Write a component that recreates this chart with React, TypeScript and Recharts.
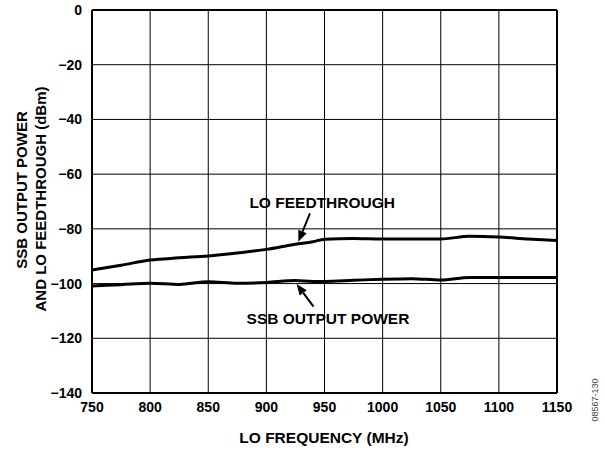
import {
  LineChart,
  Line,
  CartesianGrid,
  XAxis,
  YAxis,
  Label,
  ReferenceLine,
  ReferenceDot,
} from "recharts";

const freq = [750, 775, 800, 825, 850, 875, 900, 925, 940, 950, 975, 1000, 1025, 1050, 1075, 1100, 1125, 1150];
const loFeedthrough = [-95.0, -93.3, -91.4, -90.6, -89.9, -88.8, -87.5, -85.6, -84.7, -83.8, -83.5, -83.7, -83.7, -83.7, -82.7, -83.0, -83.7, -84.3];
const ssbOutput = [-100.9, -100.4, -99.9, -100.3, -99.3, -99.9, -99.6, -98.9, -99.2, -99.2, -98.8, -98.4, -98.2, -98.7, -97.8, -97.8, -97.8, -97.8];

const xTicks = [750, 800, 850, 900, 950, 1000, 1050, 1100, 1150];
const yTicks = [0, -20, -40, -60, -80, -100, -120, -140];

const data = freq.map((f, i) => ({ f, lo: loFeedthrough[i], ssb: ssbOutput[i] }));

const font = "'Liberation Sans', Arial, sans-serif";
const fmt = (v: number) => (v < 0 ? "\u2212" + Math.abs(v) : String(v));

function Arrow(props: any) {
  const { x1, y1, x2, y2 } = props;
  const ang = Math.atan2(y2 - y1, x2 - x1);
  const len = 11;
  const w = 4.5;
  const bx = x2 - len * Math.cos(ang);
  const by = y2 - len * Math.sin(ang);
  const px = -Math.sin(ang) * w;
  const py = Math.cos(ang) * w;
  return (
    <g>
      <line x1={x1} y1={y1} x2={bx} y2={by} stroke="#000" strokeWidth={2} />
      <polygon points={`${x2},${y2} ${bx + px},${by + py} ${bx - px},${by - py}`} fill="#000" />
    </g>
  );
}

const textLabel = (text: string) => (p: any) => {
  const vb = p.viewBox;
  return (
    <text x={vb.x} y={vb.y} textAnchor="middle" dominantBaseline="central" fontFamily={font} fontWeight="bold" fontSize={15.5} fill="#000">
      {text}
    </text>
  );
};

export default function App() {
  return (
    <div style={{ position: "absolute", left: 0, top: 0, width: 605, height: 450, background: "#fff" }}>
      <LineChart width={605} height={450} data={data} margin={{ top: 10, right: 48, bottom: 27, left: 0 }}>
        <CartesianGrid stroke="#000" strokeWidth={1} horizontalValues={yTicks} verticalValues={xTicks} />
        <XAxis
          dataKey="f"
          type="number"
          height={30}
          domain={[750, 1150]}
          ticks={xTicks}
          tickLine={false}
          axisLine={{ stroke: "#000", strokeWidth: 2 }}
          tick={{ fill: "#000", fontSize: 14, fontWeight: "bold", fontFamily: font }}
          tickMargin={3}
        >
          <Label
            content={() => (
              <text x={324} y={437} textAnchor="middle" dominantBaseline="central" fontFamily={font} fontWeight="bold" fontSize={15.5} fill="#000">
                LO FREQUENCY (MHz)
              </text>
            )}
          />
        </XAxis>
        <YAxis
          width={92}
          type="number"
          domain={[-140, 0]}
          ticks={yTicks}
          tickFormatter={fmt}
          tickLine={false}
          axisLine={{ stroke: "#000", strokeWidth: 2 }}
          tick={{ fill: "#000", fontSize: 14, fontWeight: "bold", fontFamily: font }}
          tickMargin={4}
        >
          <Label
            content={() => (
              <g fontFamily={font} fontWeight="bold" fontSize={15} fill="#000">
                <text x={21} y={190} textAnchor="middle" dominantBaseline="central" transform="rotate(-90 21 190)">
                  SSB OUTPUT POWER
                </text>
                <text x={40} y={199} textAnchor="middle" dominantBaseline="central" transform="rotate(-90 40 199)">
                  AND LO FEEDTHROUGH (dBm)
                </text>
                <text x={595} y={400} textAnchor="middle" dominantBaseline="central" fontWeight="normal" fontSize={9} fill="#444" transform="rotate(-90 595 400)">
                  08567-130
                </text>
              </g>
            )}
          />
        </YAxis>
        <ReferenceLine x={1150} stroke="#000" strokeWidth={2} />
        <ReferenceLine y={0} stroke="#000" strokeWidth={2} />
        <Line dataKey="lo" type="monotone" stroke="#000" strokeWidth={3} dot={false} isAnimationActive={false} />
        <Line dataKey="ssb" type="monotone" stroke="#000" strokeWidth={3} dot={false} isAnimationActive={false} />
        <ReferenceLine segment={[{ x: 937.5, y: -74.3 }, { x: 927.5, y: -84.7 }]} shape={<Arrow />} />
        <ReferenceLine segment={[{ x: 940.6, y: -108.4 }, { x: 926, y: -100.2 }]} shape={<Arrow />} />
        <ReferenceDot x={948} y={-70.2} r={0} label={textLabel("LO FEEDTHROUGH")} />
        <ReferenceDot x={953} y={-112.6} r={0} label={textLabel("SSB OUTPUT POWER")} />
      </LineChart>
    </div>
  );
}
